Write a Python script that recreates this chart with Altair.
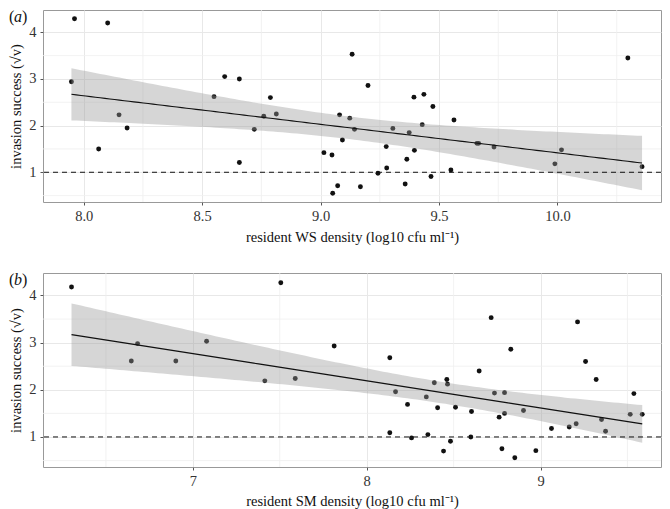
import altair as alt
import numpy as np
import pandas as pd

# ---- data ----
ws_x = [7.948, 7.961, 8.101, 8.063, 8.149, 8.183, 8.550, 8.595, 8.657, 8.657, 8.720, 8.760,
        8.788, 8.813, 9.014, 9.048, 9.051, 9.072, 9.080, 9.092, 9.123, 9.133, 9.143, 9.168,
        9.200, 9.242, 9.277, 9.279, 9.305, 9.357, 9.364, 9.374, 9.394, 9.396, 9.429, 9.436,
        9.466, 9.474, 9.550, 9.563, 9.660, 9.667, 9.732, 9.989, 10.017, 10.297, 10.357]
ws_y = [2.94, 4.29, 4.20, 1.50, 2.23, 1.95, 2.62, 3.05, 3.00, 1.21, 1.92, 2.20,
        2.60, 2.25, 1.42, 1.37, 0.55, 0.71, 2.23, 1.69, 2.16, 3.53, 1.92, 0.69,
        2.86, 0.98, 1.55, 1.09, 1.94, 0.75, 1.28, 1.85, 2.61, 1.47, 2.02, 2.67,
        0.91, 2.41, 1.05, 2.12, 1.62, 1.62, 1.54, 1.18, 1.48, 3.45, 1.12]

sm_x = [6.302, 7.506, 6.646, 6.682, 6.902, 7.079, 7.414, 7.589, 7.813, 8.133, 8.133, 8.166,
        8.235, 8.258, 8.343, 8.352, 8.389, 8.408, 8.442, 8.461, 8.465, 8.482, 8.511, 8.599,
        8.603, 8.647, 8.716, 8.735, 8.762, 8.778, 8.793, 8.793, 8.829, 8.852, 8.902, 8.973,
        9.063, 9.165, 9.205, 9.213, 9.259, 9.320, 9.351, 9.374, 9.516, 9.537, 9.585]
sm_y = [4.18, 4.27, 2.61, 2.98, 2.61, 3.03, 2.19, 2.24, 2.93, 2.68, 1.09, 1.96,
        1.69, 0.98, 1.85, 1.05, 2.15, 1.62, 0.70, 2.22, 2.12, 0.91, 1.63, 1.00,
        1.54, 2.40, 3.53, 1.93, 1.42, 0.75, 1.94, 1.50, 2.86, 0.56, 1.56, 0.71,
        1.18, 1.21, 1.28, 3.44, 2.60, 2.22, 1.37, 1.12, 1.48, 1.92, 1.48]

y_ticks = [1, 2, 3, 4]
y_minor = [0.5, 1.5, 2.5, 3.5]
y_domain = [0.363, 4.477]

ws_ticks = [8.0, 8.5, 9.0, 9.5, 10.0]
ws_minor = [8.25, 8.75, 9.25, 9.75, 10.25]
ws_domain = [7.828, 10.437]

sm_ticks = [7, 8, 9]
sm_minor = [6.5, 7.5, 8.5, 9.5]
sm_domain = [6.138, 9.693]

threshold = [1]

FONT = "Liberation Serif"
W = 618


def fit_band(x, y, n=120):
    x = np.asarray(x, float)
    y = np.asarray(y, float)
    m = len(x)
    b, a = np.polyfit(x, y, 1)
    xs = np.linspace(x.min(), x.max(), n)
    yhat = a + b * xs
    resid = y - (a + b * x)
    s = np.sqrt((resid ** 2).sum() / (m - 2))
    sxx = ((x - x.mean()) ** 2).sum()
    se = s * np.sqrt(1.0 / m + (xs - x.mean()) ** 2 / sxx)
    t = 2.014
    return pd.DataFrame({"x": xs, "fit": yhat, "lo": yhat - t * se, "hi": yhat + t * se})


def panel(x, y, xdom, xticks, xminor, xfmt, xtitle, tag, height, tpad):
    xs = alt.Scale(domain=xdom, nice=False, zero=False)
    ys = alt.Scale(domain=y_domain, nice=False, zero=False)
    xaxis = alt.Axis(values=xticks, format=xfmt, title=xtitle, titlePadding=tpad)
    yaxis = alt.Axis(values=y_ticks, format="d", title="invasion success (√v)")

    pts = pd.DataFrame({"x": x, "y": y})
    band = fit_band(x, y)

    gx = alt.Chart(pd.DataFrame({"x": xminor})).mark_rule(
        color="#efefef", strokeWidth=0.8
    ).encode(x=alt.X("x:Q", scale=xs, axis=xaxis))
    gy = alt.Chart(pd.DataFrame({"y": y_minor})).mark_rule(
        color="#efefef", strokeWidth=0.8
    ).encode(y=alt.Y("y:Q", scale=ys, axis=yaxis))

    points = alt.Chart(pts).mark_circle(size=24, color="#111111", opacity=1).encode(
        x=alt.X("x:Q", scale=xs, axis=xaxis),
        y=alt.Y("y:Q", scale=ys, axis=yaxis),
    )
    area = alt.Chart(band).mark_area(color="#999999", opacity=0.4).encode(
        x=alt.X("x:Q", scale=xs, axis=xaxis),
        y=alt.Y("lo:Q", scale=ys, axis=yaxis),
        y2="hi:Q",
    )
    line = alt.Chart(band).mark_line(color="#111111", strokeWidth=1.1).encode(
        x=alt.X("x:Q", scale=xs, axis=xaxis),
        y=alt.Y("fit:Q", scale=ys, axis=yaxis),
    )
    rule = alt.Chart(pd.DataFrame({"y": threshold})).mark_rule(
        color="#111111", strokeWidth=1, strokeDash=[5, 4]
    ).encode(y=alt.Y("y:Q", scale=ys, axis=yaxis))

    lab = pd.DataFrame({"t": [0]})
    p1 = alt.Chart(lab).mark_text(text="(", font=FONT, fontSize=16, align="left",
                                  baseline="top", color="#111111").encode(
        x=alt.value(-34), y=alt.value(-1))
    p2 = alt.Chart(lab).mark_text(text=tag, font=FONT, fontSize=16, fontStyle="italic",
                                  align="left", baseline="top", color="#111111").encode(
        x=alt.value(-29), y=alt.value(-1))
    p3 = alt.Chart(lab).mark_text(text=")", font=FONT, fontSize=16, align="left",
                                  baseline="top", color="#111111").encode(
        x=alt.value(-21), y=alt.value(-1))

    return alt.layer(gx, gy, points, area, line, rule, p1, p2, p3).properties(
        width=W, height=height
    )


top = panel(ws_x, ws_y, ws_domain, ws_ticks, ws_minor, ".1f",
            "resident WS density (log10 cfu ml⁻¹)", "a", 192, 8)
bottom = panel(sm_x, sm_y, sm_domain, sm_ticks, sm_minor, "d",
               "resident SM density (log10 cfu ml⁻¹)", "b", 194, 7)

chart = alt.vconcat(top, bottom, spacing=26).properties(
    padding={"left": 0, "top": 0, "right": 0, "bottom": 0}
).configure_view(
    stroke="#999999", strokeWidth=1
).configure_axis(
    domain=False,
    grid=True,
    gridColor="#e8e8e8",
    gridWidth=1,
    tickColor="#555555",
    tickSize=3,
    labelFont=FONT,
    labelFontSize=14.5,
    labelColor="#333333",
    labelPadding=4,
    titleFont=FONT,
    titleFontSize=14.5,
    titleFontWeight="normal",
    titleColor="#111111",
).configure_axisY(
    titlePadding=5
)

chart.save("out.html", embed_options={"renderer": "svg", "actions": False})
